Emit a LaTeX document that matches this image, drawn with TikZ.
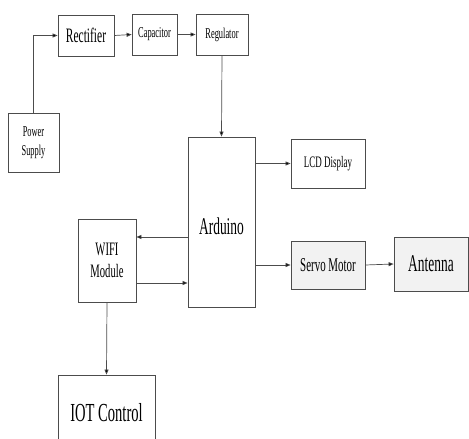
\documentclass[tikz,border=0pt]{standalone}
\usepackage{fontspec}
\setmainfont[FakeStretch=0.56]{Liberation Serif}
\usetikzlibrary{positioning,arrows.meta,calc}
\newcommand{\fs}[2]{\fontsize{#1}{#2}\selectfont}

\begin{document}
\begin{tikzpicture}[x=1pt,y=-1pt,
    blk/.style={draw=black!70,line width=0.8pt,rectangle,align=center,inner sep=0pt,anchor=center},
    gblk/.style={blk,fill=black!5},
    arr/.style={draw=black!70,line width=0.7pt,-{Triangle[length=5pt,width=4pt,fill=black]}}]
    \clip (0,0) rectangle (469,439);
    \node[blk,minimum width=56pt,minimum height=41pt,font=\fs{20.5}{24}] (rect) at (86,35.5) {Rectifier};
    \node[blk,minimum width=45pt,minimum height=41pt,font=\fs{15}{18}] (cap) at (154.5,34.5) {Capacitor};
    \node[blk,minimum width=52pt,minimum height=41pt,font=\fs{15}{18}] (reg) at (222,34.5) {Regulator};
    \node[blk,minimum width=51pt,minimum height=59pt,font=\fs{15}{19}] (ps) at (33.5,142.5) {Power\\Supply};
    \node[blk,minimum width=67pt,minimum height=170pt] (ard) at (221.5,222) {};
    \node[font=\fs{24}{28}] (ardtxt) at (221.5,226) {Arduino};
    \node[blk,minimum width=74pt,minimum height=49pt,font=\fs{16}{19}] (lcd) at (328,163.5) {LCD Display};
    \node[gblk,minimum width=74pt,minimum height=48pt,font=\fs{19.5}{23}] (servo) at (328,265) {Servo Motor};
    \node[gblk,minimum width=74pt,minimum height=54pt,font=\fs{24}{28}] (ant) at (431,264) {Antenna};
    \node[blk,minimum width=58pt,minimum height=83pt,font=\fs{19}{22}] (wifi) at (107,260.5) {WIFI\\Module};
    \node[blk,minimum width=97pt,minimum height=76pt,font=\fs{26}{30}] (iot) at (106.5,413) {IOT Control};

    \draw[arr] (ps.north) |- (rect.west);
    \draw[arr] (rect.east) -- (cap.west);
    \draw[arr] (cap.east) -- (reg.west);
    \draw[arr] (reg.south) -- (ard.north);
    \draw[arr] (ard.east |- lcd.west) -- (lcd.west);
    \draw[arr] (ard.east |- servo.west) -- (servo.west);
    \draw[arr] (servo.east) -- (ant.west);
    \draw[arr] ([yshift=23.5pt]ard.west |- wifi.east) -- ([yshift=23.5pt]wifi.east);
    \draw[arr] ([yshift=-22.5pt]wifi.east) -- ([yshift=-22.5pt]ard.west |- wifi.east);
    \draw[arr] (wifi.south) -- (iot.north);
\end{tikzpicture}
\end{document}
